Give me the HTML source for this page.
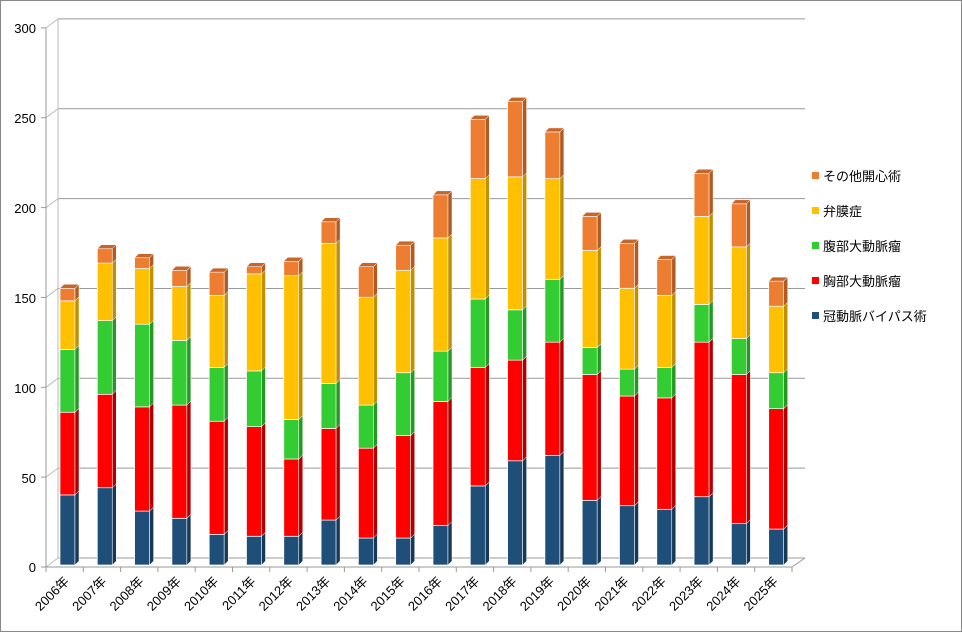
<!DOCTYPE html>
<html><head><meta charset="utf-8"><style>
body{margin:0;background:#fff}
svg{display:block}
text{font-family:"Liberation Sans","Noto Sans CJK JP",sans-serif;font-size:13px;fill:#000}
</style></head><body>
<svg id="c" width="962" height="632" xmlns="http://www.w3.org/2000/svg">
<rect x="0.5" y="0.5" width="961" height="631" fill="#fff" stroke="#888"/>
<g id="grid"></g>
<g id="bars"></g>
<g text-anchor="end">
<text x="36" y="33">300</text><text x="36" y="123">250</text><text x="36" y="213">200</text>
<text x="36" y="303">150</text><text x="36" y="393">100</text><text x="36" y="483">50</text><text x="36" y="572">0</text>
</g>
<g id="xl" text-anchor="end" transform="translate(-5,4)">
<text transform="translate(75,578) rotate(-45)">2006年</text>
<text transform="translate(112.3,578) rotate(-45)">2007年</text>
<text transform="translate(149.6,578) rotate(-45)">2008年</text>
<text transform="translate(186.9,578) rotate(-45)">2009年</text>
<text transform="translate(224.2,578) rotate(-45)">2010年</text>
<text transform="translate(261.5,578) rotate(-45)">2011年</text>
<text transform="translate(298.8,578) rotate(-45)">2012年</text>
<text transform="translate(336.1,578) rotate(-45)">2013年</text>
<text transform="translate(373.4,578) rotate(-45)">2014年</text>
<text transform="translate(410.7,578) rotate(-45)">2015年</text>
<text transform="translate(448,578) rotate(-45)">2016年</text>
<text transform="translate(485.3,578) rotate(-45)">2017年</text>
<text transform="translate(522.6,578) rotate(-45)">2018年</text>
<text transform="translate(559.9,578) rotate(-45)">2019年</text>
<text transform="translate(597.2,578) rotate(-45)">2020年</text>
<text transform="translate(634.5,578) rotate(-45)">2021年</text>
<text transform="translate(671.8,578) rotate(-45)">2022年</text>
<text transform="translate(709.1,578) rotate(-45)">2023年</text>
<text transform="translate(746.4,578) rotate(-45)">2024年</text>
<text transform="translate(783.7,578) rotate(-45)">2025年</text>
</g>
<g>
<rect x="812" y="172" width="7" height="7" fill="#ed7d31"/><text x="823" y="181">その他開心術</text>
<rect x="812" y="207" width="7" height="7" fill="#ffc000"/><text x="823" y="216">弁膜症</text>
<rect x="812" y="242" width="7" height="7" fill="#33cc33"/><text x="823" y="251">腹部大動脈瘤</text>
<rect x="812" y="277" width="7" height="7" fill="#ff0000"/><text x="823" y="286">胸部大動脈瘤</text>
<rect x="812" y="312" width="7" height="7" fill="#1f4e79"/><text x="823" y="321">冠動脈バイパス術</text>
</g>
</svg>
<script>
var ns="http://www.w3.org/2000/svg";
function el(p,t,a){var e=document.createElementNS(ns,t);for(var k in a)e.setAttribute(k,a[k]);p.appendChild(e);return e;}
var g=document.getElementById("grid"),b=document.getElementById("bars");
var S=1.797;
for(var i=0;i<=6;i++){var y=558-i*50*S;el(g,"line",{x1:58,y1:y,x2:805,y2:y,stroke:"#999","stroke-width":1});
el(g,"line",{x1:46,y1:y+9,x2:58,y2:y,stroke:"#bbb"});el(g,"line",{x1:41,y1:y+9,x2:46,y2:y+9,stroke:"#999"});}
el(g,"line",{x1:58,y1:19,x2:58,y2:558,stroke:"#bbb"});
el(g,"line",{x1:46,y1:28,x2:46,y2:567,stroke:"#999"});
el(g,"line",{x1:46,y1:567,x2:792,y2:567,stroke:"#999"});
el(g,"line",{x1:792,y1:567,x2:805,y2:558,stroke:"#999"});
for(var i=0;i<=20;i++){var x=46+i*37.3;el(g,"line",{x1:x,y1:567,x2:x,y2:572,stroke:"#999"});}
var d=[[39,85,120,147,154],[43,95,136,168,176],[30,88,134,165,171],[26,89,125,155,164],[17,80,110,150,163],[16,77,108,162,166],[16,59,81,161,169],[25,76,101,179,191],[15,65,89,149,166],[15,72,107,164,178],[22,91,119,182,206],[44,110,148,215,248],[58,114,142,216,258],[61,124,159,215,241],[36,106,121,175,194],[33,94,109,154,179],[31,93,110,150,170],[38,124,145,194,218],[23,106,126,177,201],[20,87,107,144,158]];
var F=["#1f4e79","#ff0000","#33cc33","#ffc000","#ed7d31"],Sd=["#16395a","#b00000","#249a24","#c09000","#b35a20"];
d.forEach(function(r,i){var x=60+i*37.3,prev=0;
r.forEach(function(v,k){var yb=565-prev*S,yt=565-v*S;
el(b,"rect",{x:x,y:yt,width:15,height:yb-yt,fill:F[k],stroke:"#fff","stroke-width":0.7});
el(b,"polygon",{points:[x+15,yt,x+19,yt-4,x+19,yb-4,x+15,yb].join(" "),fill:Sd[k],stroke:"#fff","stroke-width":0.5});
if(k==4)el(b,"polygon",{points:[x,yt,x+4,yt-4,x+19,yt-4,x+15,yt].join(" "),fill:"#c8652a",stroke:"#fff","stroke-width":0.5});
prev=v;});});
</script>
</body></html>
